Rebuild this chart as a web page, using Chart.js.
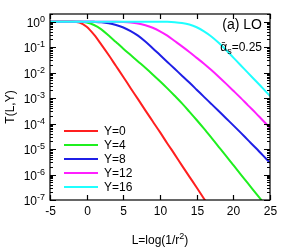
<!DOCTYPE html>
<html>
<head>
<meta charset="utf-8">
<script src="https://cdn.jsdelivr.net/npm/chart.js@4"></script>
<style>
  body { margin: 0; background: #fff; }
  #wrap { width: 291px; height: 250px; }
</style>
</head>
<body>
<div id="wrap"><canvas id="tChart" width="291" height="250"></canvas></div>
<script>
// L = log(1/r^2) sample points
const lValues = [-5, -4, -3, -2, -1, 0, 1, 2, 3, 4, 5, 6, 7, 8, 9, 10,
                 11, 12, 13, 14, 15, 16, 17, 18, 19, 20, 21, 22, 23, 24, 25];

// T(L,Y)
const tY0 = [1, 1, 1, 0.999, 0.933, 0.631, 0.309, 0.126, 0.049, 0.0182, 0.00676, 0.00245,
             9.1e-4, 3.3e-4, 1.23e-4, 4.6e-5, 1.66e-5, 6.2e-6, 2.24e-6, 8.3e-7, 3.1e-7, 1.12e-7,
             4.2e-8, null, null, null, null, null, null, null, null];
const tY4 = [1, 1, 1, 0.999, 0.989, 0.923, 0.741, 0.501, 0.288, 0.158, 0.0871, 0.049,
             0.0275, 0.0155, 0.0085, 0.00457, 0.0024, 0.00123, 6.2e-4, 2.95e-4, 1.38e-4, 6.3e-5,
             2.8e-5, 1.23e-5, 5.4e-6, 2.34e-6, 1.02e-6, 4.5e-7, 1.95e-7, 8.5e-8, null];
const tY8 = [1, 1, 1, 1, 1, 0.998, 0.985, 0.955, 0.871, 0.741, 0.589, 0.427,
             0.282, 0.166, 0.0912, 0.049, 0.0263, 0.0141, 0.0076, 0.00407, 0.00214, 0.00112,
             5.9e-4, 3.1e-4, 1.62e-4, 8.5e-5, 4.4e-5, 2.24e-5, 1.15e-5, 5.75e-6, 2.9e-6];
const tY12 = [1, 1, 1, 1, 1, 1, 1, 1, 0.998, 0.993, 0.977, 0.933,
              0.851, 0.724, 0.575, 0.417, 0.282, 0.174, 0.107, 0.0646, 0.038, 0.0224,
              0.0126, 0.0069, 0.0037, 0.00195, 0.00102, 5.2e-4, 2.7e-4, 1.35e-4, 6.8e-5];
const tY16 = [1, 1, 1, 1, 1, 1, 1, 1, 1, 1, 1, 1,
              1, 1, 1, 0.998, 0.989, 0.955, 0.891, 0.776, 0.603, 0.417,
              0.263, 0.148, 0.0776, 0.0389, 0.0195, 0.0098, 0.0049, 0.00245, 0.0012];

const seriesLabels = ['Y=0', 'Y=4', 'Y=8', 'Y=12', 'Y=16'];
const seriesColors = ['#ff1f1f', '#1fef1f', '#1f1fe6', '#ff1fff', '#1fffff'];

const xTicks = [-5, 0, 5, 10, 15, 20, 25];
const yExponents = [0, -1, -2, -3, -4, -5, -6, -7];

const FONT = '"Liberation Sans", Arial, sans-serif';

function toPoints(vals) {
    return lValues.map((l, i) => ({ x: l, y: vals[i] }));
}

const frame = {
    id: 'frame',
    afterDraw(chart) {
        const { ctx, chartArea: a, scales: { x, y } } = chart;
        ctx.save();
        ctx.strokeStyle = '#000';
        ctx.fillStyle = '#000';
        ctx.lineWidth = 1.2;
        ctx.strokeRect(a.left, a.top, a.right - a.left, a.bottom - a.top);

        // x ticks + labels
        ctx.font = '12px ' + FONT;
        ctx.textAlign = 'center';
        ctx.textBaseline = 'top';
        xTicks.forEach(v => {
            const px = Math.round(x.getPixelForValue(v)) + 0.5;
            ctx.beginPath();
            ctx.moveTo(px, a.bottom); ctx.lineTo(px, a.bottom - 5);
            ctx.moveTo(px, a.top); ctx.lineTo(px, a.top + 5);
            ctx.stroke();
            ctx.fillText(String(v), px, a.bottom + 6);
        });

        // y ticks, major + minor
        yExponents.forEach(e => {
            const py = Math.round(y.getPixelForValue(Math.pow(10, e))) + 0.5;
            ctx.beginPath();
            ctx.moveTo(a.left, py); ctx.lineTo(a.left + 6, py);
            ctx.moveTo(a.right, py); ctx.lineTo(a.right - 6, py);
            ctx.stroke();
            for (let m = 2; m <= 9; m++) {
                const v = m * Math.pow(10, e);
                if (v > y.max) continue;
                const pm = Math.round(y.getPixelForValue(v)) + 0.5;
                ctx.beginPath();
                ctx.moveTo(a.left, pm); ctx.lineTo(a.left + 3, pm);
                ctx.moveTo(a.right, pm); ctx.lineTo(a.right - 3, pm);
                ctx.stroke();
            }
            // label 10^e
            const exp = String(e);
            ctx.font = '9px ' + FONT;
            const ew = ctx.measureText(exp).width;
            ctx.textAlign = 'left';
            ctx.textBaseline = 'alphabetic';
            const right = a.left - 5;
            ctx.fillText(exp, right - ew, py - 1);
            ctx.font = '12px ' + FONT;
            ctx.textAlign = 'right';
            ctx.fillText('10', right - ew, py + 4);
        });

        // axis titles
        ctx.font = '12px ' + FONT;
        ctx.textBaseline = 'middle';
        ctx.textAlign = 'center';
        ctx.save();
        ctx.translate(11, (a.top + a.bottom) / 2);
        ctx.rotate(-Math.PI / 2);
        ctx.fillText('T(L,Y)', 0, 0);
        ctx.restore();

        const t1 = 'L=log(1/r', t2 = '2', t3 = ')';
        ctx.font = '12px ' + FONT;
        const w1 = ctx.measureText(t1).width, w3 = ctx.measureText(t3).width;
        ctx.font = '9px ' + FONT;
        const w2 = ctx.measureText(t2).width;
        let cx = (a.left + a.right) / 2 - (w1 + w2 + w3) / 2;
        const by = 244;
        ctx.textAlign = 'left';
        ctx.textBaseline = 'alphabetic';
        ctx.font = '12px ' + FONT;
        ctx.fillText(t1, cx, by); cx += w1;
        ctx.font = '9px ' + FONT;
        ctx.fillText(t2, cx, by - 5); cx += w2;
        ctx.font = '12px ' + FONT;
        ctx.fillText(t3, cx, by);

        // annotations
        ctx.textAlign = 'right';
        ctx.font = '14px ' + FONT;
        ctx.fillText('(a) LO', a.right - 8, a.top + 15);
        ctx.font = '12px ' + FONT;
        const s3 = '=0.25';
        const w5 = ctx.measureText(s3).width;
        ctx.fillText(s3, a.right - 8, a.top + 37);
        ctx.font = '9px ' + FONT;
        const ws = ctx.measureText('s').width;
        ctx.fillText('s', a.right - 8 - w5, a.top + 40);
        ctx.font = '12px ' + FONT;
        ctx.fillText('\u1FB1', a.right - 8 - w5 - ws, a.top + 37);

        // legend, in series order
        ctx.textAlign = 'left';
        ctx.textBaseline = 'middle';
        seriesLabels.forEach((label, i) => {
            const ly = 131 + i * 14;
            ctx.strokeStyle = seriesColors[i];
            ctx.lineWidth = 2;
            ctx.beginPath();
            ctx.moveTo(64, ly); ctx.lineTo(98, ly);
            ctx.stroke();
            ctx.fillText(label, 104, ly + 1);
        });
        ctx.restore();
    }
};

const allSeries = [tY0, tY4, tY8, tY12, tY16];

new Chart(document.getElementById('tChart'), {
    type: 'line',
    data: {
        // reversed so that Y=16 ends up drawn on top
        datasets: seriesLabels.map((label, i) => ({
            label: label,
            data: toPoints(allSeries[i]),
            borderColor: seriesColors[i],
            borderWidth: 2,
            pointRadius: 0,
            cubicInterpolationMode: 'monotone',
            clip: 0
        })).reverse()
    },
    options: {
        responsive: false,
        animation: false,
        layout: { padding: { left: 50, right: 21, top: 14, bottom: 50 } },
        plugins: { legend: { display: false }, tooltip: { enabled: false } },
        scales: {
            x: { type: 'linear', min: -5, max: 25, display: false },
            y: { type: 'logarithmic', min: 1e-7, max: 2, display: false }
        }
    },
    plugins: [frame]
});
</script>
</body>
</html>
